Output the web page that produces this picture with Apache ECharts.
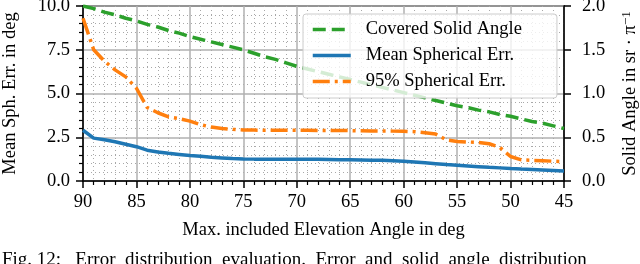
<!DOCTYPE html>
<html>
<head>
<meta charset="utf-8">
<script src="https://cdn.jsdelivr.net/npm/echarts@6/dist/echarts.min.js"></script>
<style>
  html, body { margin: 0; padding: 0; background: #fff; }
  #chart { width: 640px; height: 264px; }
</style>
</head>
<body>
<div id="chart"></div>
<script>
// max. included elevation angle (deg), one point per degree
var elevation = [90, 89, 88, 87, 86, 85, 84, 83, 82, 81, 80, 79, 78, 77, 76, 75,
    74, 73, 72, 71, 70, 69, 68, 67, 66, 65, 64, 63, 62, 61, 60, 59, 58, 57, 56,
    55, 54, 53, 52, 51, 50, 49, 48, 47, 46, 45];

// covered solid angle in sr / pi (right axis)
var solidAngle = [2.00, 1.97, 1.93, 1.90, 1.86, 1.83, 1.79, 1.76, 1.72, 1.69, 1.65,
    1.62, 1.59, 1.56, 1.53, 1.50, 1.46, 1.42, 1.39, 1.35, 1.31, 1.28, 1.25, 1.22,
    1.19, 1.16, 1.13, 1.10, 1.07, 1.04, 1.01, 0.98, 0.95, 0.92, 0.89, 0.86, 0.84,
    0.81, 0.79, 0.76, 0.74, 0.71, 0.68, 0.66, 0.63, 0.60];

// mean spherical error in deg
var meanErr = [2.90, 2.45, 2.36, 2.24, 2.10, 1.96, 1.76, 1.66, 1.58, 1.52, 1.46,
    1.41, 1.36, 1.32, 1.28, 1.26, 1.25, 1.25, 1.24, 1.24, 1.24, 1.24, 1.24, 1.23,
    1.22, 1.21, 1.20, 1.19, 1.18, 1.16, 1.13, 1.09, 1.04, 0.99, 0.94, 0.90, 0.86,
    0.82, 0.78, 0.75, 0.71, 0.68, 0.66, 0.63, 0.60, 0.57];

// 95% spherical error in deg
var err95 = [9.30, 7.50, 6.85, 6.35, 5.95, 5.30, 4.20, 3.90, 3.66, 3.56, 3.42,
    3.22, 3.08, 3.00, 2.95, 2.92, 2.91, 2.90, 2.90, 2.90, 2.90, 2.90, 2.89, 2.89,
    2.88, 2.88, 2.87, 2.86, 2.86, 2.85, 2.84, 2.82, 2.76, 2.68, 2.35, 2.26, 2.23,
    2.20, 2.13, 1.92, 1.40, 1.21, 1.18, 1.16, 1.13, 1.10];

var xTicks = [90, 85, 80, 75, 70, 65, 60, 55, 50, 45];

// figure caption, cut off by the bottom edge in the reference
var caption = 'Fig. 12:   Error  distribution  evaluation.  Error  and  solid  angle  distribution';

var FONT = '"Liberation Serif", "DejaVu Serif", serif';
var FS = 18.5;

function pairs(ys) {
    return elevation.map(function(x, i) { return [x, ys[i]]; });
}

var chart = echarts.init(document.getElementById('chart'));

var axisLine = { show: true, lineStyle: { color: '#000', width: 1.5 } };
var labelStyle = { color: '#000', fontFamily: FONT, fontSize: FS };
var tickStyle = { show: true, inside: false, length: 7, lineStyle: { color: '#000', width: 1.5 } };
var minorTickStyle = { show: true, splitNumber: 5, length: 4, lineStyle: { color: '#000', width: 1.2 } };
var gridLine = { show: true, lineStyle: { color: '#b0b0b0', width: 1.5 } };
var dotGrid = { show: true, lineStyle: { color: '#a8a8a8', width: 1, type: [1, 3] } };

var option = {
    animation: false,
    grid: {
        left: 83, right: 76, top: 6, bottom: 83,
        containLabel: false,
        outerBoundsMode: 'none',
        show: true, borderColor: '#000', borderWidth: 1.5,
        backgroundColor: 'transparent'
    },
    graphic: [{
        type: 'text',
        left: 2, top: 251,
        style: { text: caption, fill: '#000', font: '19px ' + FONT }
    }],
    legend: {
        orient: 'vertical',
        left: 303, top: 14,
        padding: [6, 35, 7, 8],
        itemGap: 7,
        itemWidth: 38,
        itemHeight: 14,
        backgroundColor: 'rgba(255,255,255,0.8)',
        borderColor: '#cccccc',
        borderWidth: 1,
        borderRadius: 3,
        itemStyle: { opacity: 0 },
        lineStyle: { width: 3.5 },
        textStyle: { color: '#000', fontFamily: FONT, fontSize: FS, padding: [0, 0, 0, 10] },
        data: ['Covered Solid Angle', 'Mean Spherical Err.', '95% Spherical Err.']
    },
    xAxis: {
        type: 'value',
        min: 45, max: 90, interval: 5,
        inverse: true,
        name: 'Max. included Elevation Angle in deg',
        nameLocation: 'middle',
        nameGap: 40,
        nameTextStyle: labelStyle,
        axisLine: axisLine,
        axisTick: tickStyle,
        minorTick: minorTickStyle,
        axisLabel: Object.assign({ margin: 12, customValues: xTicks }, labelStyle),
        splitLine: gridLine,
        minorSplitLine: dotGrid
    },
    yAxis: [{
        type: 'value',
        min: 0, max: 10, interval: 2.5,
        name: 'Mean Sph. Err. in deg',
        nameLocation: 'middle',
        nameGap: 63,
        nameRotate: 90,
        nameTextStyle: labelStyle,
        axisLine: axisLine,
        axisTick: tickStyle,
        minorTick: minorTickStyle,
        axisLabel: Object.assign({
            margin: 13,
            formatter: function(v) { return v.toFixed(1); }
        }, labelStyle),
        splitLine: gridLine,
        minorSplitLine: dotGrid
    }, {
        type: 'value',
        position: 'right',
        min: 0, max: 2, interval: 0.5,
        name: 'Solid Angle in sr · π{sup|−1}',
        nameLocation: 'middle',
        nameGap: 56,
        nameRotate: 90,
        nameTextStyle: Object.assign({
            rich: { sup: { fontFamily: FONT, fontSize: 13, color: '#000', verticalAlign: 'top', padding: [0, 0, 8, 0] } }
        }, labelStyle),
        axisLine: axisLine,
        axisTick: tickStyle,
        axisLabel: Object.assign({
            margin: 18,
            formatter: function(v) { return v.toFixed(1); }
        }, labelStyle),
        splitLine: { show: false }
    }],
    series: [{
        name: 'Covered Solid Angle',
        type: 'line',
        yAxisIndex: 1,
        symbol: 'none',
        data: pairs(solidAngle),
        color: '#2ca02c',
        lineStyle: { color: '#2ca02c', width: 3.5, type: [13, 6] }
    }, {
        name: 'Mean Spherical Err.',
        type: 'line',
        symbol: 'none',
        data: pairs(meanErr),
        color: '#1f77b4',
        lineStyle: { color: '#1f77b4', width: 3.5 }
    }, {
        name: '95% Spherical Err.',
        type: 'line',
        symbol: 'none',
        data: pairs(err95),
        color: '#ff7f0e',
        lineStyle: { color: '#ff7f0e', width: 3.5, type: [17, 5, 3, 5] }
    }]
};

chart.setOption(option);
</script>
</body>
</html>
